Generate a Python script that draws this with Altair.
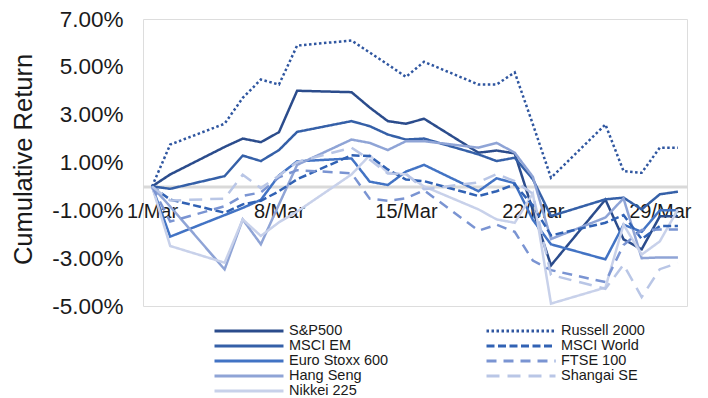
import altair as alt
import pandas as pd

# trading days of March 2018 (day of month)
days = [1, 2, 5, 6, 7, 8, 9, 12, 13, 14, 15, 16, 19, 20, 21, 22, 23, 26, 27, 28, 29, 30]

sp500 = [0, 0.5, 1.65, 2.0, 1.85, 2.27, 4.0, 3.94, 3.3, 2.73, 2.62, 2.83, 1.41, 1.5, 1.38, -1.0, -3.3, -0.55, -2.21, -2.63, -1.25, -1.25]
msci_em = [0, -0.1, 0.43, 1.29, 1.06, 1.52, 2.28, 2.73, 2.52, 2.17, 1.96, 2.0, 1.34, 1.06, 1.2, 0.3, -1.24, -0.54, -0.47, -0.96, -0.33, -0.22]
euro_stoxx = [0, -2.1, -1.2, -0.9, -0.56, 0.46, 1.05, 1.17, 0.2, 0.06, 0.62, 0.9, -0.2, 0.34, 0.13, -1.4, -2.42, -3.05, -1.6, -1.9, -1.0, -1.0]
hang_seng = [0, -0.84, -3.47, -1.38, -2.42, -0.75, 0.9, 1.96, 1.82, 1.52, 1.89, 1.89, 1.62, 1.82, 1.41, 0.4, -2.2, -1.3, -0.5, -3.0, -2.97, -2.97]
nikkei = [0, -2.49, -3.19, -1.38, -2.07, -1.5, -1.05, 0.5, 1.3, 0.57, 0.5, 0.0, -0.96, -1.38, -1.52, -0.3, -4.9, -4.23, -1.6, -2.85, -2.3, -0.96]
russell = [0, 1.75, 2.62, 3.7, 4.47, 4.26, 5.89, 6.1, 5.6, 5.1, 4.58, 5.21, 4.26, 4.26, 4.77, 2.6, 0.36, 2.59, 0.64, 0.57, 1.62, 1.62]
msci_world = [0, -0.55, -1.1, -0.75, -0.6, -0.2, 0.3, 1.3, 1.27, 0.71, 0.29, 0.22, -0.4, -0.2, 0.08, -0.8, -2.05, -1.52, -1.2, -2.2, -1.66, -1.66]
ftse = [0, -1.47, -0.83, -0.4, -0.25, 0.38, 0.68, 0.55, -0.51, -0.6, -0.5, -0.16, -1.85, -1.6, -1.9, -3.1, -3.5, -4.0, -2.45, -1.82, -1.8, -1.8]
shanghai = [0, -0.59, -0.51, 0.49, -0.07, 0.45, 1.02, 1.62, 1.12, 0.54, 0.53, -0.12, 0.17, 0.52, 0.22, -0.31, -3.7, -4.28, -3.27, -4.63, -3.46, -3.2]

series = {
    "S&P500": sp500,
    "MSCI EM": msci_em,
    "Euro Stoxx 600": euro_stoxx,
    "Hang Seng": hang_seng,
    "Nikkei 225": nikkei,
    "Russell 2000": russell,
    "MSCI World": msci_world,
    "FTSE 100": ftse,
    "Shangai SE": shanghai,
}
legend_order = list(series.keys())
colors = ["#2b4c8c", "#3560a8", "#4273c4", "#8fa4d6", "#c8d1ea", "#2f56a0", "#3162b4", "#7a94d2", "#b9c6e6"]
dashes = [[1, 0], [1, 0], [1, 0], [1, 0], [1, 0], [2.5, 2.5], [8, 3.5], [10, 7], [13, 8]]

x_ticks = [1, 8, 15, 22, 29]
y_ticks = [-5, -3, -1, 1, 3, 5, 7]

rows = []
for name, vals in series.items():
    for d, v in zip(days, vals):
        rows.append({"day": d, "ret": v, "index": name})
df = pd.DataFrame(rows)

FONT = "Liberation Sans"
TXT = "#1a1a1a"

legend = alt.Legend(orient="none", legendX=70, legendY=305, columns=2,
                    symbolType="stroke", symbolSize=4761, symbolStrokeWidth=3,
                    clipHeight=14, labelFontSize=14.5, labelFont=FONT,
                    labelColor=TXT, columnPadding=96, rowPadding=0,
                    labelOffset=4, title=None, padding=0)

chart = alt.Chart(df).mark_line(strokeWidth=2.5).encode(
    x=alt.X("day:Q",
            scale=alt.Scale(domain=[0.5, 30.5], nice=False, zero=False),
            axis=alt.Axis(values=x_ticks, labelExpr="datum.value + '/Mar'", title=None,
                          grid=False, ticks=False, domain=True, domainColor="#d9d9d9",
                          domainWidth=3, offset=-119.6, labelPadding=15,
                          labelFontSize=20, labelFont=FONT, labelColor=TXT,
                          labelFlush=False, labelOverlap=False, zindex=0)),
    y=alt.Y("ret:Q",
            scale=alt.Scale(domain=[-5, 7], nice=False, zero=False),
            axis=alt.Axis(values=y_ticks,
                          labelExpr="(datum.value < 0 ? '-' : '') + format(abs(datum.value), '.2f') + '%'",
                          title="Cumulative Return", titleFontSize=25.5, titleFont=FONT,
                          titleFontWeight="normal", titleColor=TXT, titleX=-120, titleY=140,
                          titleAngle=270, titleAlign="center", titleBaseline="middle",
                          grid=False, ticks=False, domain=False, labelPadding=20,
                          labelFontSize=22.5, labelFont=FONT, labelColor=TXT, labelFlush=False)),
    color=alt.Color("index:N", scale=alt.Scale(domain=legend_order, range=colors), legend=legend),
    strokeDash=alt.StrokeDash("index:N", scale=alt.Scale(domain=legend_order, range=dashes), legend=legend),
    detail="index:N",
).properties(
    width=544, height=287,
    autosize=alt.AutoSizeParams(type="none"),
    padding={"left": 143, "top": 19, "right": 21, "bottom": 92},
).configure_view(stroke=None).configure(background="white")

chart.save("out.html", embed_options={"renderer": "svg", "actions": False})
